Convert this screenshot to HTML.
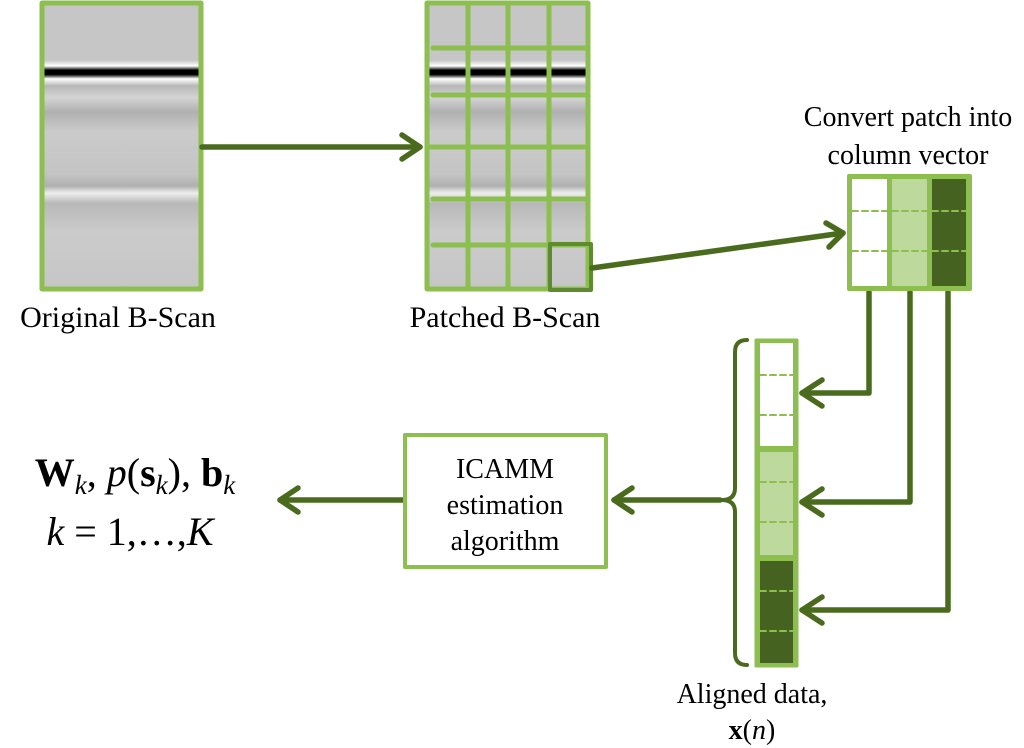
<!DOCTYPE html>
<html><head><meta charset="utf-8"><style>
html,body{margin:0;padding:0;background:#fff}
svg{display:block}
svg text{font-family:"Liberation Serif","DejaVu Serif",serif}
</style></head><body>
<svg width="1024" height="748" viewBox="0 0 1024 748" xmlns="http://www.w3.org/2000/svg">
<defs>
<linearGradient id="bs" x1="0" y1="0" x2="0" y2="1">
<stop offset="0" stop-color="#c6c6c6"/>
<stop offset="0.2" stop-color="#c6c6c6"/>
<stop offset="0.22" stop-color="#ffffff"/>
<stop offset="0.235" stop-color="#000000"/>
<stop offset="0.25" stop-color="#000000"/>
<stop offset="0.265" stop-color="#ffffff"/>
<stop offset="0.29" stop-color="#b8b8b8"/>
<stop offset="0.33" stop-color="#d4d4d4"/>
<stop offset="0.38" stop-color="#b0b0b0"/>
<stop offset="0.45" stop-color="#cbcbcb"/>
<stop offset="0.6" stop-color="#c4c4c4"/>
<stop offset="0.64" stop-color="#b0b0b0"/>
<stop offset="0.665" stop-color="#eeeeee"/>
<stop offset="0.7" stop-color="#b8b8b8"/>
<stop offset="0.8" stop-color="#cbcbcb"/>
<stop offset="1" stop-color="#c6c6c6"/>
</linearGradient>
</defs>
<g stroke-linecap="round" stroke-linejoin="round">
<rect x="42" y="3" width="159" height="286" fill="url(#bs)" stroke="#8cbf50" stroke-width="5"/>
<rect x="427" y="3" width="161" height="286" fill="url(#bs)" stroke="#8cbf50" stroke-width="5"/>
<g stroke="#8cbf50" stroke-width="5">
<line x1="468" y1="3" x2="468" y2="289"/><line x1="508" y1="3" x2="508" y2="289"/><line x1="549" y1="3" x2="549" y2="289"/>
<line x1="433" y1="48" x2="588" y2="48"/><line x1="433" y1="95" x2="588" y2="95"/><line x1="427" y1="147" x2="588" y2="147"/>
<line x1="433" y1="199" x2="588" y2="199"/><line x1="433" y1="245" x2="588" y2="245"/>
</g>
<rect x="550" y="244" width="41" height="46" fill="none" stroke="#5e8a30" stroke-width="4"/>
<g stroke="#4a6b1e" stroke-width="5.5" fill="none">
<line x1="202" y1="147" x2="420" y2="147"/><polyline points="402,135 420,147 402,159"/>
<line x1="592" y1="268" x2="843" y2="233"/><polyline points="826,223 843,233 829,247"/>
<polyline points="869,292 869,393 802,393"/><polyline points="822,380 802,393 822,406"/>
<polyline points="910,292 910,502 802,502"/><polyline points="822,489 802,502 822,515"/>
<polyline points="948,292 948,610 802,610"/><polyline points="822,597 802,610 822,623"/>
<line x1="720" y1="500" x2="614" y2="500"/><polyline points="632,488 614,500 632,512"/>
<line x1="404" y1="500" x2="280" y2="500"/><polyline points="298,488 280,500 298,512"/>
<path d="M747,340 Q735,340 735,352 L735,488 Q735,500 722,500 Q735,500 735,512 L735,653 Q735,665 747,665" stroke-width="4"/>
</g>
<rect x="849" y="176" width="121" height="113" fill="#8cbf50" stroke="#8cbf50" stroke-width="4"/>
<rect x="852" y="179" width="35" height="107" fill="#fff"/>
<rect x="892" y="179" width="35" height="107" fill="#bdd99b"/>
<rect x="932" y="179" width="34" height="107" fill="#466220"/>
<g stroke="#8cbf50" stroke-width="2" stroke-dasharray="6,4">
<line x1="852" y1="211" x2="967" y2="211"/><line x1="852" y1="251" x2="967" y2="251"/>
</g>
<rect x="756" y="340" width="41" height="326" fill="#8cbf50" stroke="#8cbf50" stroke-width="3"/>
<rect x="760" y="343" width="33" height="103" fill="#fff"/>
<rect x="760" y="452" width="33" height="103" fill="#bdd99b"/>
<rect x="760" y="561" width="33" height="102" fill="#466220"/>
<g stroke="#8cbf50" stroke-width="2" stroke-dasharray="6,4">
<line x1="760" y1="375" x2="793" y2="375"/><line x1="760" y1="415" x2="793" y2="415"/>
<line x1="760" y1="482" x2="793" y2="482"/><line x1="760" y1="522" x2="793" y2="522"/>
<line x1="760" y1="591" x2="793" y2="591"/><line x1="760" y1="631" x2="793" y2="631"/>
</g>
<rect x="405" y="435" width="201" height="132" fill="#fff" stroke="#8cbf50" stroke-width="4"/>
</g>
<g font-size="30" text-anchor="middle" fill="#000">
<text x="118" y="327">Original B-Scan</text>
<text x="505" y="327">Patched B-Scan</text>
<text x="908" y="126" font-size="28">Convert patch into</text>
<text x="908" y="164" font-size="28">column vector</text>
<text x="505" y="478" font-size="28">ICAMM</text>
<text x="505" y="514" font-size="28">estimation</text>
<text x="505" y="550" font-size="28">algorithm</text>
<text x="752" y="703" font-size="28">Aligned data,</text>
<text x="752" y="739" font-size="28"><tspan font-weight="bold">x</tspan>(<tspan font-style="italic">n</tspan>)</text>
</g>
<g font-size="40" text-anchor="middle" fill="#000">
<text x="135" y="486"><tspan font-weight="bold">W</tspan><tspan font-style="italic" font-size="27" dy="8">k</tspan><tspan dy="-8">, </tspan><tspan font-style="italic">p</tspan>(<tspan font-weight="bold">s</tspan><tspan font-style="italic" font-size="27" dy="8">k</tspan><tspan dy="-8">), </tspan><tspan font-weight="bold">b</tspan><tspan font-style="italic" font-size="27" dy="8">k</tspan></text>
<text x="130" y="545"><tspan font-style="italic">k</tspan> = 1,…,<tspan font-style="italic">K</tspan></text>
</g>
</svg>
</body></html>
